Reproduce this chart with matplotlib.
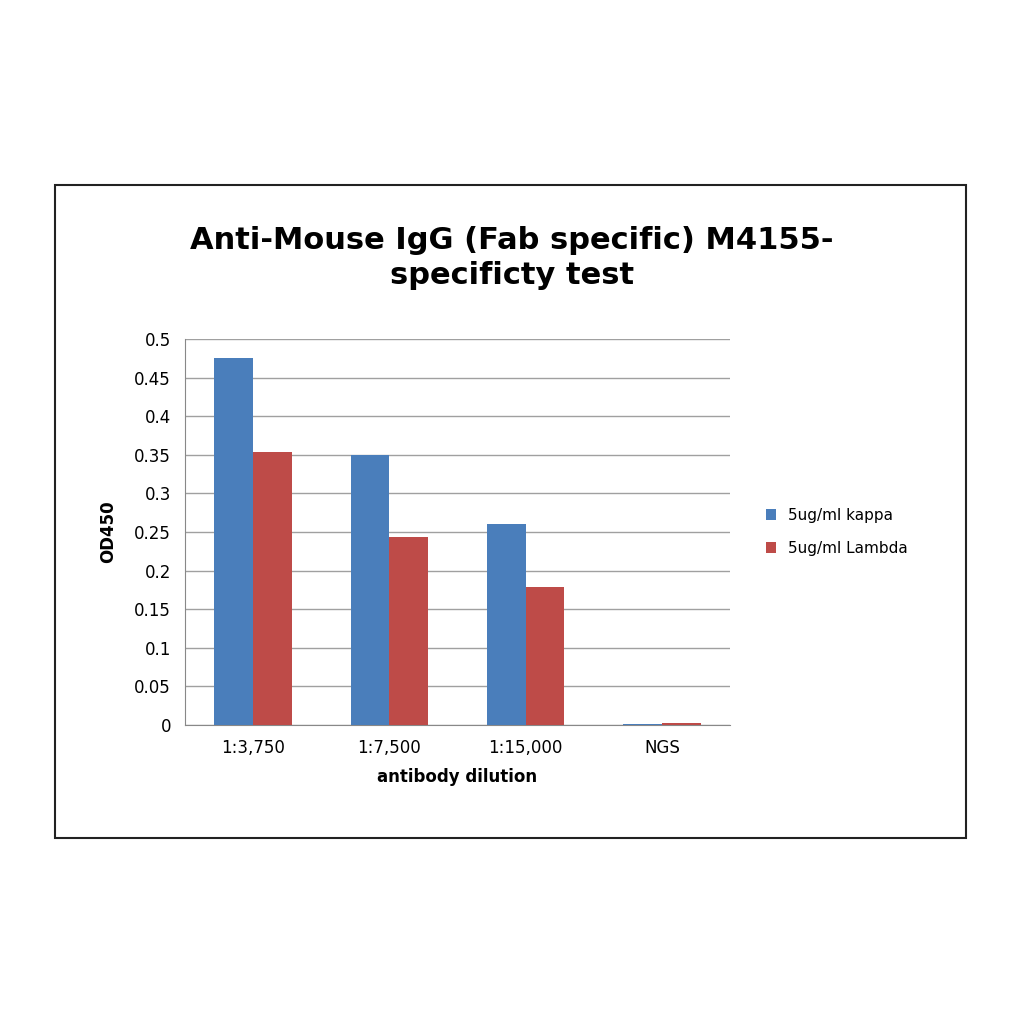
import matplotlib.pyplot as plt
import numpy as np
from matplotlib.patches import Rectangle

categories = ['1:3,750', '1:7,500', '1:15,000', 'NGS']
kappa = [0.475, 0.350, 0.260, 0.001]
lambda_ = [0.354, 0.244, 0.179, 0.003]
yticks = [0, 0.05, 0.1, 0.15, 0.2, 0.25, 0.3, 0.35, 0.4, 0.45, 0.5]
ylabels = ['0', '0.05', '0.1', '0.15', '0.2', '0.25', '0.3', '0.35', '0.4', '0.45', '0.5']

fig = plt.figure(figsize=(10.24, 10.24), dpi=100)
fig.patches.append(Rectangle((55/1024, 1-838/1024), 911/1024, 653/1024,
                             transform=fig.transFigure, fill=False, edgecolor='#222222', lw=1.5))

ax = fig.add_axes([185/1024, 1-725/1024, 545/1024, 386/1024])
x = np.arange(len(categories))
w = 0.285
ax.bar(x - w/2, kappa, w, color='#4a7ebb', label='5ug/ml kappa', zorder=3)
ax.bar(x + w/2, lambda_, w, color='#be4b48', label='5ug/ml Lambda', zorder=3)
ax.set_xlim(-0.5, 3.5)
ax.set_ylim(0, 0.5)
ax.set_yticks(yticks)
ax.set_yticklabels(ylabels, fontsize=12)
ax.set_xticks(x)
ax.set_xticklabels(categories, fontsize=12)
ax.tick_params(length=0, pad=10)
ax.grid(axis='y', color='#a0a0a0', lw=1, zorder=0)
for s in ['top', 'right']:
    ax.spines[s].set_visible(False)
ax.spines['left'].set_color('#888888')
ax.spines['bottom'].set_color('#888888')
ax.set_ylabel('OD450', fontsize=12, fontweight='bold', labelpad=12)
ax.set_xlabel('antibody dilution', fontsize=12, fontweight='bold', labelpad=8)

fig.text(0.5, 1-258/1024, 'Anti-Mouse IgG (Fab specific) M4155-\nspecificty test',
         ha='center', va='center', fontsize=22, fontweight='bold', linespacing=1.3)

ax.legend(loc='center left', bbox_to_anchor=(1.04, 0.5), frameon=False, fontsize=11,
          handlelength=0.7, handleheight=0.7, labelspacing=1.2)

fig.savefig('out.png', dpi=100, facecolor='white')
